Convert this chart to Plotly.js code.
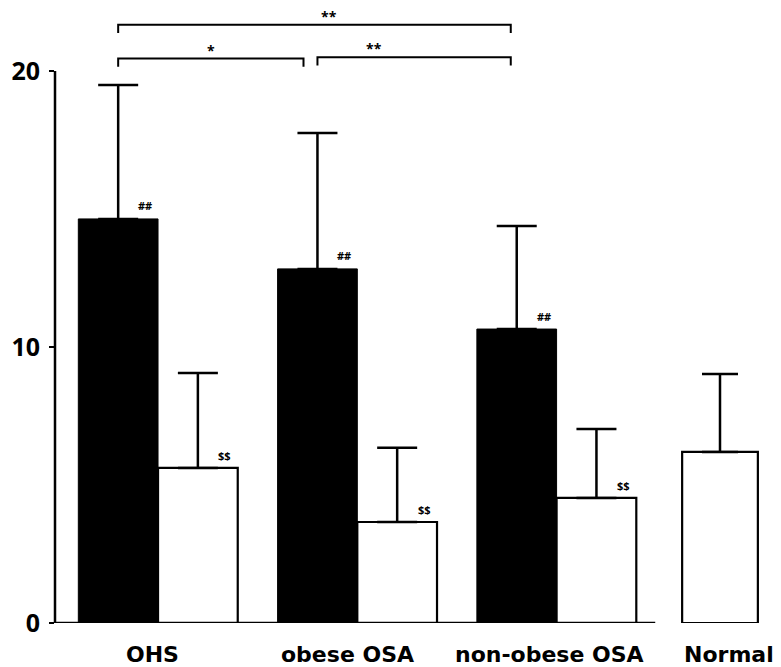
<!DOCTYPE html>
<html>
<head>
<meta charset="utf-8">
<script src="https://cdn.plot.ly/plotly-3.0.1.min.js"></script>
<style>body{margin:0;background:#fff}#chart{width:781px;height:667px}</style>
</head>
<body>
<div id="chart"></div>
<script>
// ---- data ----
var categories = ["OHS", "obese OSA", "non-obese OSA", "Normal"];
var blackValues = [14.64, 12.83, 10.65];
var blackErrors = [4.85, 4.92, 3.73];
var whiteValues = [5.62, 3.66, 4.53];
var whiteErrors = [3.44, 2.69, 2.50];
var normalValue = [6.2];
var normalError = [2.82];
var blackMarks = ["##", "##", "##"];
var whiteMarks = ["$$", "$$", "$$"];
var yTicks = [0, 10, 20];
var comparisons = [
  {from: 0, to: 2, label: "**"},
  {from: 0, to: 1, label: "*"},
  {from: 1, to: 2, label: "**"}
];

// ---- layout helpers ----
var groupPos = [0, 1, 2, 2.82];      // x positions of the groups
var half = 0.2;                      // half of a bar width
var FONT = "Open Sans, DejaVu Sans, sans-serif";
var LABEL_FONT = "DejaVu Sans, Open Sans, sans-serif";

var blackX = blackValues.map(function (v, i) { return groupPos[i] - half; });
var whiteX = whiteValues.map(function (v, i) { return groupPos[i] + half; });
var zeros3 = [0, 0, 0];

var traces = [
  {
    type: "bar", x: blackX, y: blackValues, width: 0.4,
    marker: {color: "#000", line: {color: "#000", width: 1}},
    error_y: {type: "data", symmetric: false, array: blackErrors, arrayminus: zeros3,
              color: "#000", thickness: 2.5, width: 20},
    hoverinfo: "skip", showlegend: false
  },
  {
    type: "bar", x: whiteX, y: whiteValues, width: 0.4,
    marker: {color: "#fff", line: {color: "#000", width: 2.2}},
    error_y: {type: "data", symmetric: false, array: whiteErrors, arrayminus: zeros3,
              color: "#000", thickness: 2.5, width: 20},
    hoverinfo: "skip", showlegend: false
  },
  {
    type: "bar", x: [groupPos[3]], y: normalValue, width: 0.38,
    marker: {color: "#fff", line: {color: "#000", width: 2.2}},
    error_y: {type: "data", symmetric: false, array: normalError, arrayminus: [0],
              color: "#000", thickness: 2.5, width: 18},
    hoverinfo: "skip", showlegend: false
  }
];

var annotations = [];
var labelShift = [-6, -10, -7, 9];
categories.forEach(function (c, i) {
  annotations.push({
    x: groupPos[i], y: 0, xref: "x", yref: "y", text: c, showarrow: false,
    xshift: labelShift[i], yshift: -31, xanchor: "center", yanchor: "middle",
    font: {family: LABEL_FONT, size: 22, color: "#000", weight: 700}
  });
});
blackValues.forEach(function (v, i) {
  annotations.push({
    x: blackX[i], y: v, text: blackMarks[i], showarrow: false,
    xshift: 27, yshift: 13, font: {family: FONT, size: 11, color: "#000", weight: 700}
  });
});
whiteValues.forEach(function (v, i) {
  annotations.push({
    x: whiteX[i], y: v, text: whiteMarks[i], showarrow: false,
    xshift: 27, yshift: 12, font: {family: FONT, size: 11, color: "#000", weight: 700}
  });
});

var shapes = [];
// y axis line (0 to 20)
shapes.push({type: "line", xref: "paper", yref: "y", x0: 0, x1: 0, y0: 0, y1: 20,
             line: {color: "#000", width: 2.5}});
// baseline
shapes.push({type: "line", xref: "paper", yref: "y", x0: 0, x1: 0.8325, y0: 0, y1: 0,
             line: {color: "#000", width: 2.5}});

// significance brackets
var bracketLevels = [21.68, 20.45, 20.5];
var bracketDrop = 0.3;
comparisons.forEach(function (c, k) {
  var x0 = blackX[c.from];
  var x1 = blackX[c.to] - 0.03;
  if (k === 1) { x1 = blackX[c.to] - 0.07; }
  var y = bracketLevels[k];
  shapes.push({type: "path", xref: "x", yref: "y",
    path: "M" + x0 + "," + (y - bracketDrop) + " L" + x0 + "," + y + " L" + x1 + "," + y + " L" + x1 + "," + (y - bracketDrop),
    line: {color: "#000", width: 2}});
  annotations.push({x: (x0 + x1) / 2, y: y, text: c.label, showarrow: false,
    yanchor: "bottom", yshift: -3,
    xshift: (k === 0 ? 15 : (k === 2 ? -40 : 0)),
    font: {family: FONT, size: 14, color: "#000", weight: 700}});
});

var layout = {
  width: 781, height: 667,
  margin: {l: 55, r: 5, t: 10, b: 44},
  paper_bgcolor: "#fff", plot_bgcolor: "#fff",
  barmode: "overlay",
  xaxis: {range: [-0.517, 3.101], showgrid: false, zeroline: false, showline: false,
          showticklabels: false, ticks: "", fixedrange: true},
  yaxis: {range: [0, 22.21], showgrid: false, zeroline: false, showline: false,
          tickvals: yTicks, ticktext: yTicks.map(String), ticks: "outside",
          ticklen: 5, tickwidth: 2.5, tickcolor: "#000", ticklabelstandoff: 4,
          tickfont: {family: FONT, size: 25, color: "#000", weight: 700}, fixedrange: true},
  shapes: shapes,
  annotations: annotations,
  showlegend: false
};

Plotly.newPlot("chart", traces, layout, {displayModeBar: false, staticPlot: true});
</script>
</body>
</html>
